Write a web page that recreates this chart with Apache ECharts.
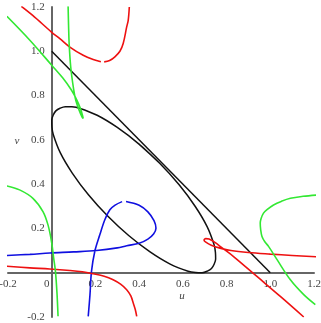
<!DOCTYPE html>
<html><head><meta charset="utf-8">
<script src="https://cdn.jsdelivr.net/npm/echarts@6/dist/echarts.min.js"></script>
<style>html,body{margin:0;padding:0;background:#fff}#c{width:321px;height:323px}</style>
</head><body><div id="c"></div>
<script>
// axis ranges / ticks
const uRange = [-0.2, 1.2];
const vRange = [-0.2, 1.2];
const tickStep = 0.2;

// black: hypotenuse u+v=1 and inscribed ellipse
const hypotenuse = [[0, 1], [1, 0]];
const ellipse = [
  [0.494,0.494],[0.398,0.582],[0.300,0.656],[0.208,0.711],[0.126,0.743],[0.092,0.749],
  [0.062,0.750],[0.038,0.743],[0.019,0.731],[0.007,0.712],[0.000,0.688],[0.001,0.658],
  [0.007,0.624],[0.039,0.542],[0.094,0.450],[0.168,0.352],[0.256,0.256],[0.352,0.168],
  [0.450,0.094],[0.542,0.039],[0.624,0.007],[0.658,0.001],[0.688,0.000],[0.712,0.007],
  [0.731,0.019],[0.743,0.038],[0.750,0.062],[0.749,0.092],[0.743,0.126],[0.711,0.208],
  [0.656,0.300],[0.582,0.398],[0.494,0.494],[0.398,0.582]
];

// red curves
const redUpper = [
  [-0.139,1.203],[-0.087,1.162],[-0.001,1.087],[0.037,1.057],[0.083,1.019],[0.144,0.982],
  [0.19,0.963],[0.225,0.953],null,[0.24,0.952],[0.265,0.958],[0.289,0.975],[0.312,1.0],
  [0.327,1.035],[0.343,1.11],[0.35,1.14],[0.355,1.2]
];
const redLower = [
  [-0.205,0.029],[-0.1,0.022],[-0.009,0.017],[0.083,0.01],[0.14,0.004],[0.19,-0.005],
  [0.24,-0.016],[0.281,-0.032],[0.315,-0.052],[0.343,-0.077],[0.362,-0.105],[0.373,-0.137],
  [0.382,-0.165],[0.389,-0.197]
];
const redRight = [
  [1.21,0.072],[1.1,0.078],[1.0,0.084],[0.9,0.091],[0.82,0.100],[0.77,0.111],[0.73,0.124],
  [0.705,0.138],[0.697,0.147],[0.705,0.154],[0.72,0.152],[0.745,0.138],[0.78,0.112],
  [0.832,0.073],[0.939,-0.017],[1.046,-0.107],[1.153,-0.2]
];

// green curves
const greenUpper = [
  [-0.205,1.158],[-0.1,1.05],[0.0,0.937],[0.05,0.88],[0.09,0.825],[0.115,0.78],[0.132,0.74],
  [0.141,0.71],[0.144,0.697],[0.138,0.705],[0.125,0.735],[0.11,0.779],[0.1,0.83],
  [0.087,0.929],[0.08,1.03],[0.077,1.12],[0.075,1.203]
];
const greenLower = [
  [-0.205,0.392],[-0.147,0.374],[-0.086,0.336],[-0.04,0.276],[-0.017,0.216],[-0.001,0.141],
  [0.009,0.066],[0.017,0.006],[0.024,-0.09],[0.029,-0.197]
];
const greenRight = [
  [1.214,0.351],[1.15,0.345],[1.092,0.336],[1.05,0.322],[1.015,0.306],[0.985,0.285],
  [0.969,0.269],[0.958,0.245],[0.954,0.224],[0.956,0.195],[0.962,0.164],[0.975,0.14],
  [0.992,0.119],[1.031,0.059],[1.092,-0.032],[1.153,-0.099],[1.206,-0.144]
];

// blue curve (with a small gap at the top of its loop)
const blueCurve = [
  [-0.205,0.078],[-0.1,0.083],[-0.009,0.089],[0.1,0.094],[0.205,0.100],[0.3,0.112],
  [0.343,0.122],[0.40,0.133],[0.44,0.152],[0.466,0.175],[0.477,0.201],[0.468,0.235],
  [0.44,0.275],[0.40,0.305],[0.34,0.322],null,[0.322,0.321],[0.29,0.305],[0.266,0.284],
  [0.243,0.239],[0.22,0.171],[0.197,0.096],[0.182,0.006],[0.175,-0.1],[0.167,-0.197]
];

const FONT = '"Liberation Serif", "Times New Roman", serif';
const LABEL_COLOR = '#444';
const W = 321, H = 323;
const G = { left: 8, right: 7, top: 7, bottom: 6 };
const gw = W - G.left - G.right, gh = H - G.top - G.bottom;
// move the axes so they cross at (0,0)
const xOffset = -gh * (0 - vRange[0]) / (vRange[1] - vRange[0]);
const yOffset = -gw * (0 - uRange[0]) / (uRange[1] - uRange[0]);

function curve(data, color, width) {
  return {
    type: 'line', data: data, showSymbol: false, smooth: 0.35,
    connectNulls: false, animation: false, silent: true,
    lineStyle: { color: color, width: width || 1.6 }
  };
}

const chart = echarts.init(document.getElementById('c'), null, { renderer: 'canvas' });
chart.setOption({
  backgroundColor: '#fff',
  animation: false,
  grid: { left: G.left, right: G.right, top: G.top, bottom: G.bottom, containLabel: false, outerBoundsMode: 'none' },
  xAxis: {
    type: 'value', min: uRange[0], max: uRange[1], interval: tickStep,
    position: 'bottom', offset: xOffset,
    axisLine: { onZero: false, lineStyle: { color: '#666', width: 2 } },
    axisTick: { show: false }, splitLine: { show: false },
    axisLabel: {
      margin: 6, fontFamily: FONT, fontSize: 11, color: LABEL_COLOR,
      showMinLabel: true, showMaxLabel: true, hideOverlap: false,
      formatter: function (v) { return Math.abs(v) < 1e-9 ? '{z|0}' : v.toFixed(1); },
      rich: { z: { fontFamily: FONT, fontSize: 11, color: LABEL_COLOR, padding: [0, 10, 3, 0] } }
    }
  },
  yAxis: {
    type: 'value', min: vRange[0], max: vRange[1], interval: tickStep,
    position: 'left', offset: yOffset,
    axisLine: { onZero: false, lineStyle: { color: '#666', width: 2 } },
    axisTick: { show: false }, splitLine: { show: false },
    axisLabel: {
      margin: 7, fontFamily: FONT, fontSize: 11, color: LABEL_COLOR,
      showMinLabel: true, showMaxLabel: true, hideOverlap: false,
      formatter: function (v) { return Math.abs(v) < 1e-9 ? '' : v.toFixed(1); }
    }
  },
  graphic: [
    { type: 'text', x: 182, y: 296, style: { text: 'u', font: 'italic 11px ' + FONT, fill: LABEL_COLOR, align: 'center', verticalAlign: 'middle' } },
    { type: 'text', x: 17, y: 141, style: { text: 'v', font: 'italic 11px ' + FONT, fill: LABEL_COLOR, align: 'center', verticalAlign: 'middle' } }
  ],
  series: [
    curve(hypotenuse, '#111', 1.5),
    curve(ellipse, '#111', 1.5),
    curve(blueCurve, '#1010e0'),
    curve(redUpper, '#ee1111'),
    curve(redLower, '#ee1111'),
    curve(redRight, '#ee1111'),
    curve(greenUpper, '#33e833'),
    curve(greenLower, '#33e833'),
    curve(greenRight, '#33e833')
  ]
});
</script>
</body></html>
